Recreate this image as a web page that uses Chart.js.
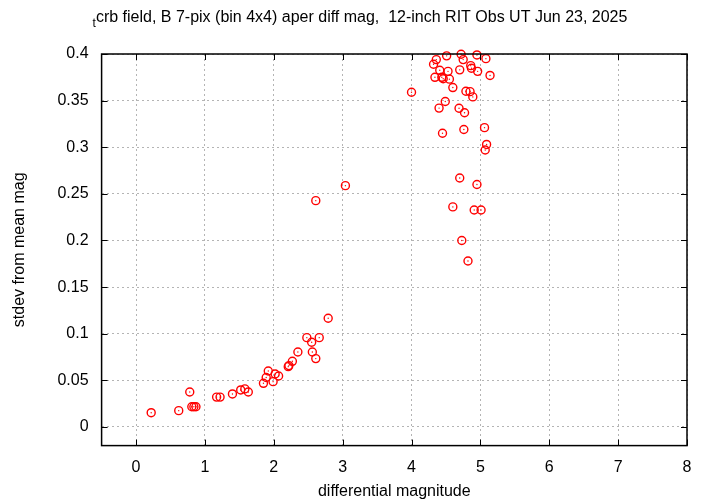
<!DOCTYPE html>
<html>
<head>
<meta charset="utf-8">
<script src="https://cdn.jsdelivr.net/npm/chart.js@4"></script>
<style>
  body { margin: 0; background: #fff; }
  canvas { display: block; }
</style>
</head>
<body>
<canvas id="myChart" width="720" height="504"></canvas>
<script>
const diffMag = [
  0.22, 0.62, 0.78, 0.81, 0.84, 0.87, 1.17, 1.22, 1.40, 1.52,
  1.58, 1.63, 1.85, 1.89, 1.92, 1.99, 2.02, 2.07, 2.21, 2.22,
  2.27, 2.35, 2.48, 2.55, 2.56, 2.61, 2.66, 2.61, 2.79, 3.04,
  4.00, 4.32, 4.36, 4.34, 4.40, 4.41, 4.44, 4.46, 4.45, 4.49,
  4.51, 4.53, 4.55, 4.60, 4.60, 4.69, 4.70, 4.70, 4.72, 4.73,
  4.75, 4.76, 4.77, 4.79, 4.82, 4.85, 4.86, 4.87, 4.89, 4.91,
  4.95, 4.95, 4.96, 5.01, 5.06, 5.07, 5.08, 5.09, 5.14
]
const stdevMag = [
  0.0153, 0.0175, 0.0375, 0.0217, 0.0217, 0.0217, 0.032, 0.032, 0.0354, 0.0397,
  0.0408, 0.0375, 0.0468, 0.053, 0.060, 0.0486, 0.0568, 0.0547, 0.0647, 0.0658,
  0.0704, 0.0804, 0.0958, 0.0908, 0.0804, 0.0733, 0.0958, 0.2427, 0.1166, 0.2588,
  0.359, 0.389, 0.394, 0.375, 0.342, 0.3825, 0.375, 0.3735, 0.315, 0.349,
  0.398, 0.3814, 0.373, 0.364, 0.236, 0.3418, 0.383, 0.267, 0.3997, 0.200,
  0.394, 0.319, 0.337, 0.360, 0.178, 0.3596, 0.3875, 0.3847, 0.354, 0.2327,
  0.399, 0.260, 0.3814, 0.2327, 0.321, 0.297, 0.395, 0.303, 0.377
]
const xTicks = [0, 1, 2, 3, 4, 5, 6, 7, 8]
const yTicks = [0, 0.05, 0.1, 0.15, 0.2, 0.25, 0.3, 0.35, 0.4]
const yTickLabels = ['0', '0.05', '0.1', '0.15', '0.2', '0.25', '0.3', '0.35', '0.4']
const titleSub = 't'
const titleMain = 'crb field, B 7-pix (bin 4x4) aper diff mag,  12-inch RIT Obs UT Jun 23, 2025'
const xLabel = 'differential magnitude'
const yLabel = 'stdev from mean mag'

const FONT = "'Liberation Sans', Arial, sans-serif"
const points = diffMag.map((x, i) => ({ x: x, y: stdevMag[i] }))

// gnuplot style frame: border box, inward ticks on all four sides, title with subscript
const framePlugin = {
  id: 'frame',
  afterDraw(chart) {
    const { ctx, chartArea: a, scales } = chart
    ctx.save()
    ctx.strokeStyle = '#000'
    ctx.lineWidth = 1
    ctx.beginPath()
    xTicks.forEach(v => {
      const px = Math.round(scales.x.getPixelForValue(v)) + 0.5
      ctx.moveTo(px, a.bottom); ctx.lineTo(px, a.bottom - 6)
      ctx.moveTo(px, a.top); ctx.lineTo(px, a.top + 6)
    })
    yTicks.forEach(v => {
      const py = Math.round(scales.y.getPixelForValue(v)) + 0.5
      ctx.moveTo(a.left, py); ctx.lineTo(a.left + 6, py)
      ctx.moveTo(a.right, py); ctx.lineTo(a.right - 6, py)
    })
    ctx.stroke()
    ctx.lineWidth = 1.5
    ctx.strokeRect(a.left, a.top, a.right - a.left, a.bottom - a.top)

    ctx.fillStyle = '#000'
    ctx.textBaseline = 'alphabetic'
    ctx.font = '12px ' + FONT
    const wSub = ctx.measureText(titleSub).width
    ctx.font = '16px ' + FONT
    const wMain = ctx.measureText(titleMain).width
    const x0 = 360 - (wSub + wMain) / 2
    ctx.fillText(titleMain, x0 + wSub, 22)
    ctx.font = '12px ' + FONT
    ctx.fillText(titleSub, x0, 27)
    ctx.restore()
  }
}

new Chart(document.getElementById('myChart'), {
  type: 'scatter',
  data: {
    datasets: [{
      data: points,
      pointStyle: 'circle',
      pointRadius: 4,
      pointBorderWidth: 1.4,
      pointBorderColor: '#ff0000',
      pointBackgroundColor: 'rgba(0,0,0,0)',
      clip: false
    }, {
      data: points,
      pointRadius: 0.7,
      pointBorderWidth: 0,
      pointBackgroundColor: '#ff0000',
      clip: false
    }]
  },
  options: {
    responsive: false,
    animation: false,
    devicePixelRatio: 1,
    layout: { padding: { left: 0, right: 33, top: 54, bottom: 0 } },
    plugins: {
      legend: { display: false },
      title: { display: false },
      tooltip: { enabled: false }
    },
    scales: {
      x: {
        type: 'linear',
        min: -0.5,
        max: 8,
        afterBuildTicks: scale => { scale.ticks = xTicks.map(v => ({ value: v })) },
        afterFit: scale => { scale.height = 58.4 },
        ticks: {
          autoSkip: false,
          maxRotation: 0,
          padding: 12,
          color: '#000',
          font: { family: FONT, size: 16 },
          callback: v => String(v)
        },
        grid: { color: '#b4b4b4', lineWidth: 1, drawTicks: false },
        border: { display: false, dash: [2, 3] },
        title: {
          display: true,
          text: xLabel,
          color: '#000',
          font: { family: FONT, size: 16 },
          padding: { top: 0, bottom: 3 }
        }
      },
      y: {
        type: 'linear',
        min: -0.02,
        max: 0.4,
        afterBuildTicks: scale => { scale.ticks = yTicks.map(v => ({ value: v })) },
        afterFit: scale => { scale.width = 101.6 },
        ticks: {
          autoSkip: false,
          padding: 13,
          color: '#000',
          font: { family: FONT, size: 16 },
          callback: (v, i) => yTickLabels[i]
        },
        grid: { color: '#b4b4b4', lineWidth: 1, drawTicks: false },
        border: { display: false, dash: [2, 3] },
        title: {
          display: true,
          text: yLabel,
          color: '#000',
          font: { family: FONT, size: 16 },
          padding: { top: 10, bottom: 0 }
        }
      }
    }
  },
  plugins: [framePlugin]
})
</script>
</body>
</html>
